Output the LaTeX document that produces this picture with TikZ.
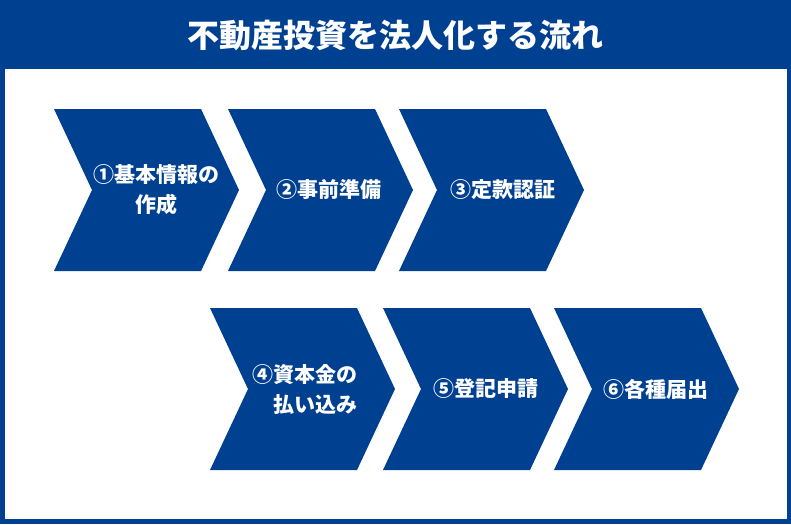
\documentclass[tikz,border=0pt]{standalone}
\usepackage{fontspec}
\setmainfont{Noto Sans CJK JP}
\usepackage{tikz}

\definecolor{frameblue}{RGB}{0,64,145}

\begin{document}
\begin{tikzpicture}[x=1pt,y=-1pt,
  stepshape/.style={fill=frameblue},
  steplabel/.style={text=white,font=\bfseries\fontsize{21}{30}\selectfont,inner sep=0pt}]
\useasboundingbox (0,0) rectangle (791,524);
\fill[frameblue] (0,0) rectangle (791,524);
\fill[white] (5,69) rectangle (787,519);
\node[text=white,font=\bfseries\fontsize{32}{36}\selectfont] (title) at (395.5,35.5) {不動産投資を法人化する流れ};
% chevrons: number / left x / top y / text x / alignment / label
\foreach \i/\x/\y/\tx/\al/\txt in {1/54/109/156/center/{①基本情報の\\作成},
    2/228/109/329/center/{②事前準備},
    3/399/109/503/center/{③定款認証},
    4/210/308/305/right/{④資本金の\\払い込み},
    5/383/308/486/center/{⑤登記申請},
    6/554/308/656/center/{⑥各種届出}} {
  \fill[stepshape] (\x,\y) -- ++(147,0) -- ++(38,81) -- ++(-38,81) -- ++(-147,0) -- ++(38,-81) -- cycle;
  \node[steplabel,align=\al] (s\i) at (\tx,\y+81) {\txt};
}
\end{tikzpicture}
\end{document}
